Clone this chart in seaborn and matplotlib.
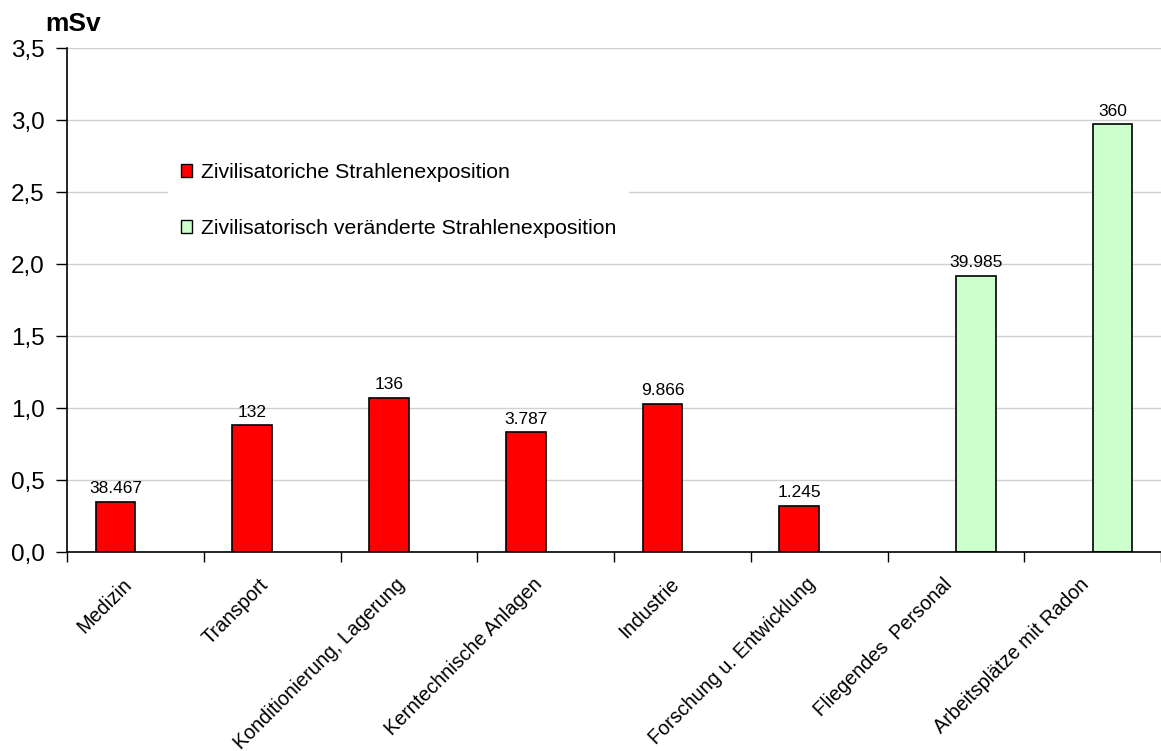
import matplotlib
matplotlib.use("Agg")
import matplotlib.pyplot as plt
import seaborn as sns
import pandas as pd
import numpy as np
from matplotlib.patches import Patch
from matplotlib.ticker import FuncFormatter

categories = ["Medizin", "Transport", "Konditionierung, Lagerung", "Kerntechnische Anlagen",
              "Industrie", "Forschung u. Entwicklung", "Fliegendes  Personal",
              "Arbeitsplätze mit Radon"]
dose_msv = [0.35, 0.88, 1.07, 0.83, 1.03, 0.32, 1.92, 2.97]
persons = ["38.467", "132", "136", "3.787", "9.866", "1.245", "39.985", "360"]
series = ["Zivilisatoriche Strahlenexposition",
          "Zivilisatorisch veränderte Strahlenexposition"]
group_of = [series[0]] * 6 + [series[1]] * 2
colors = ["#FF0000", "#CCFFCC"]
y_ticks = [0.0, 0.5, 1.0, 1.5, 2.0, 2.5, 3.0, 3.5]

df = pd.DataFrame({"category": categories, "dose": dose_msv, "group": group_of})

sns.set_style("white")
plt.rcParams["font.family"] = ["Liberation Sans", "DejaVu Sans"]
plt.rcParams["text.color"] = "black"
plt.rcParams["axes.labelcolor"] = "black"
plt.rcParams["xtick.color"] = "black"
plt.rcParams["ytick.color"] = "black"

fig = plt.figure(figsize=(11.61, 7.51), dpi=100)
ax = fig.add_axes([67 / 1161, 1 - 552 / 751, 1 - 67 / 1161, (552 - 48) / 751])

sns.barplot(data=df, x="category", y="dose", hue="group", order=categories,
            hue_order=series, palette=colors, width=0.58, dodge=True,
            edgecolor="black", linewidth=1.2, legend=False, ax=ax, saturation=1)

for cont in ax.containers:
    labs = [persons[int(round(b.get_x() + b.get_width() / 2))] for b in cont]
    ax.bar_label(cont, labels=labs, padding=4, fontsize=12.5, color="black")

ax.set_ylim(0, 3.5)
ax.set_xlim(-0.5, 7.5 - 3 / 137)
ax.set_yticks(y_ticks)
ax.yaxis.set_major_formatter(FuncFormatter(lambda v, p: f"{v:.1f}".replace(".", ",")))
ax.tick_params(axis="y", labelsize=17.5, length=8, width=1, direction="out", left=True, pad=8)
ax.set_xticks(np.arange(len(categories)))
ax.set_xticklabels(categories)
ax.set_xticks(np.arange(-0.5, len(categories), 1.0), minor=True)
ax.tick_params(axis="x", which="major", length=0, pad=26, labelsize=14.2)
ax.tick_params(axis="x", which="minor", length=7, width=1, direction="out", bottom=True)
for lab in ax.get_xticklabels():
    lab.set_rotation(45)
    lab.set_ha("right")
    lab.set_va("bottom")
    lab.set_rotation_mode("anchor")

ax.set_xlabel("")
ax.set_ylabel("")
ax.yaxis.grid(True, color="#d0d0d0", linewidth=1)
ax.set_axisbelow(True)
for s in ["top", "right"]:
    ax.spines[s].set_visible(False)
for s in ["left", "bottom"]:
    ax.spines[s].set_color("black")
    ax.spines[s].set_linewidth(1.2)

handles = [Patch(facecolor=c, edgecolor="black", linewidth=1) for c in colors]
leg = fig.legend(handles, series, loc="upper left",
                 bbox_to_anchor=(168 / 1161, 1 - 150 / 751),
                 fontsize=15.3, frameon=True, facecolor="white", edgecolor="none",
                 framealpha=1, fancybox=False, handlelength=0.55, handleheight=0.55,
                 handletextpad=0.4, labelspacing=1.75, borderpad=0.6, borderaxespad=0)

fig.text(45 / 1161, 1 - 24 / 751, "mSv", fontsize=19, fontweight="bold", va="center", ha="left")

fig.savefig("out.png", dpi=100)
